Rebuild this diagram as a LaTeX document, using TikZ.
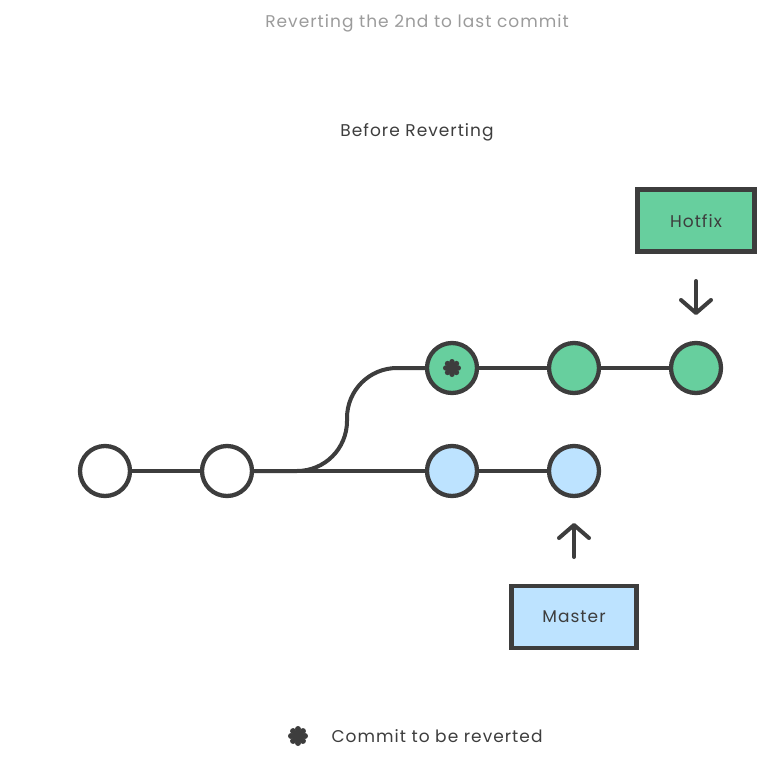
\documentclass[tikz,border=0pt]{standalone}
\usepackage{fontspec}
\setmainfont[LetterSpace=6]{Poppins}
\usetikzlibrary{arrows.meta}
\definecolor{dk}{HTML}{3D3D3D}
\definecolor{grn}{HTML}{67CF9E}
\definecolor{blu}{HTML}{BDE3FF}
\definecolor{gry}{HTML}{9B9B9B}
\tikzset{
  commit/.style={circle, draw=dk, line width=4.3pt, minimum size=50pt, inner sep=0pt},
  branchbox/.style={draw=dk, line width=4.3pt, minimum width=117pt, minimum height=62pt, font=\fontsize{17}{20}\selectfont, text=dk},
  link/.style={draw=dk, line width=4pt},
  pointer/.style={draw=dk, line width=4pt, line cap=round, -{Straight Barb[length=13pt, width=30pt, line cap=round, line join=round]}},
  lbl/.style={font=\fontsize{17}{20}\selectfont, text=dk}
}
\newcommand{\flower}[3]{%
  \foreach \a in {0,45,...,315}{\fill[dk] (#1,#2) ++(\a:#3*0.7) circle (#3*0.3);}
  \fill[dk] (#1,#2) circle (#3*0.62);
}
\begin{document}
\begin{tikzpicture}[x=1pt,y=-1pt]
\useasboundingbox (0,0) rectangle (770,763);
\node[font=\fontsize{17}{20}\selectfont, text=gry] (title) at (417,23) {Reverting the 2nd to last commit};
\node[lbl] (before) at (417,132) {Before Reverting};

\node[commit, fill=white] (c1) at (105,471) {};
\node[commit, fill=white] (c2) at (227,471) {};
\node[commit, fill=blu] (m1) at (452,471) {};
\node[commit, fill=blu] (m2) at (574,471) {};
\node[commit, fill=grn] (h1) at (452,368) {};
\node[commit, fill=grn] (h2) at (574,368) {};
\node[commit, fill=grn] (h3) at (696,368) {};

\draw[link] (c1) -- (c2);
\draw[link] (c2) -- (m1);
\draw[link] (m1) -- (m2);
\draw[link] (h1) -- (h2);
\draw[link] (h2) -- (h3);
\coordinate (fork) at (c2.east);
\draw[link, rounded corners=50pt] (fork) -- (347,471) -- (347,368) -- (h1.west);

\flower{452}{368}{9}

\node[branchbox, fill=grn, text depth=0pt, yshift=0pt] (hotfix) at (696,220.5) {\raisebox{-2pt}{Hotfix}};
\node[branchbox, fill=blu, minimum width=125pt] (master) at (574,617) {\raisebox{-2pt}{Master}};

\coordinate (ha) at (696,281);
\coordinate (hb) at (696,315);
\draw[pointer] (ha) -- (hb);
\coordinate (ma) at (574,557);
\coordinate (mb) at (574,523);
\draw[pointer] (ma) -- (mb);

\flower{298}{736}{10}
\node[lbl, anchor=west] (legend) at (328,736.5) {Commit to be reverted};
\end{tikzpicture}
\end{document}
